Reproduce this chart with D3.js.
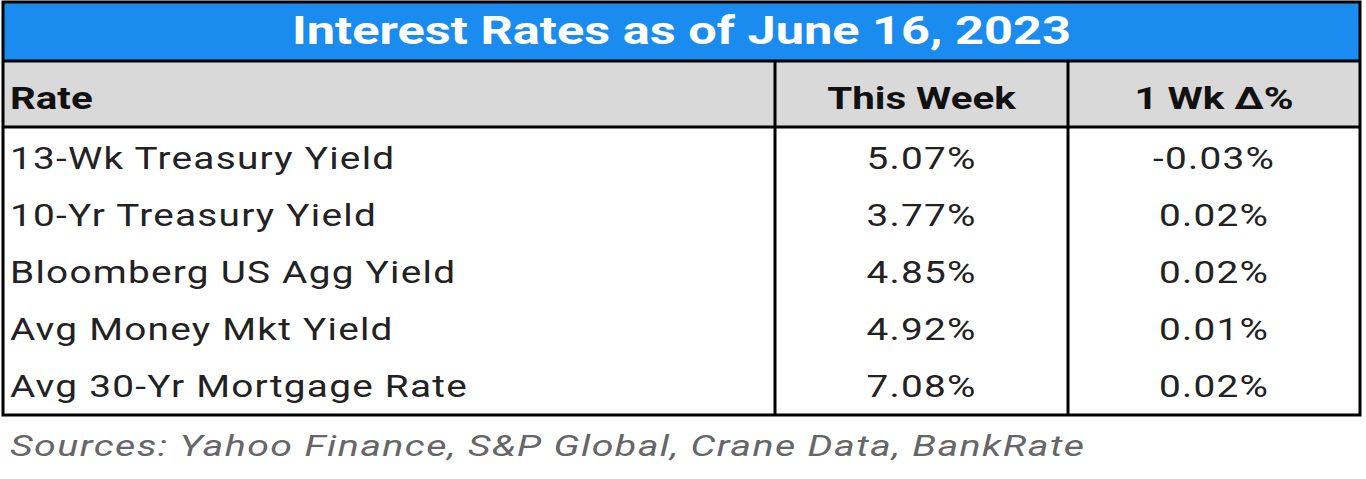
<!DOCTYPE html>
<html>
<head>
<meta charset="utf-8">
<script src="https://cdn.jsdelivr.net/npm/d3@7"></script>
<style>
  body { margin: 0; background: #fff; }
  text { font-family: Roboto, "Noto Sans", sans-serif; }
</style>
</head>
<body>
<svg></svg>
<script>
var title = "Interest Rates as of June 16, 2023";
var headers = ["Rate", "This Week", "1 Wk Δ%"];
var rates = ["13-Wk Treasury Yield", "10-Yr Treasury Yield", "Bloomberg US Agg Yield", "Avg Money Mkt Yield", "Avg 30-Yr Mortgage Rate"];
var thisWeek = ["5.07%", "3.77%", "4.85%", "4.92%", "7.08%"];
var weekChange = ["-0.03%", "0.02%", "0.02%", "0.01%", "0.02%"];
var source = "Sources: Yahoo Finance, S&P Global, Crane Data, BankRate";

var width = 1366, height = 479;
var left = 3, right = 1360;
var colEdges = [left, 775, 1068, right];

var svg = d3.select("svg").attr("width", width).attr("height", height);

var y = d3.scaleBand().domain(d3.range(rates.length)).range([130, 415]);

// text stretched horizontally like the reference image
function label(x, yy, sx, txt, anchor) {
  return svg.append("g").attr("transform", "translate(" + x + "," + yy + ") scale(" + sx + ",1)")
    .append("text").attr("dy", "0.35em").attr("text-anchor", anchor || "start").text(txt);
}

// title
svg.append("rect").attr("x", left).attr("y", 2).attr("width", right - left).attr("height", 58)
  .attr("fill", "#1a8cf0");
label((left + right) / 2, 31, 1.33, title, "middle")
  .attr("fill", "#fff").attr("font-weight", "bold").attr("font-size", 38);

// header
svg.append("rect").attr("x", left).attr("y", 62).attr("width", right - left).attr("height", 64)
  .attr("fill", "#d9d9d9");
headers.forEach(function (h, i) {
  label(i == 0 ? 10 : (colEdges[i] + colEdges[i + 1]) / 2, 98, 1.3, h, i == 0 ? "start" : "middle")
    .attr("font-weight", "bold").attr("font-size", 31).attr("fill", "#111");
});

// body
rates.forEach(function (r, i) {
  var cy = y(i) + y.bandwidth() / 2;
  [[10, r, "start"], [(colEdges[1] + colEdges[2]) / 2, thisWeek[i], "middle"],
   [(colEdges[2] + colEdges[3]) / 2, weekChange[i], "middle"]].forEach(function (c) {
    label(c[0], cy, 1.25, c[1], c[2]).attr("font-size", 31).attr("letter-spacing", 1).attr("fill", "#222");
  });
});

// borders
var line = function (x1, y1, x2, y2, w) {
  svg.append("line").attr("x1", x1).attr("y1", y1).attr("x2", x2).attr("y2", y2)
    .attr("stroke", "#000").attr("stroke-width", w);
};
svg.append("rect").attr("x", left).attr("y", 2).attr("width", right - left).attr("height", 413)
  .attr("fill", "none").attr("stroke", "#000").attr("stroke-width", 3);
line(left, 61, right, 61, 3);
line(left, 127, right, 127, 3);
line(colEdges[1], 62, colEdges[1], 415, 3);
line(colEdges[2], 62, colEdges[2], 415, 3);

// source
label(10, 446, 1.36, source).attr("font-size", 29).attr("font-style", "italic")
  .attr("letter-spacing", 1).attr("fill", "#666");
</script>
</body>
</html>
